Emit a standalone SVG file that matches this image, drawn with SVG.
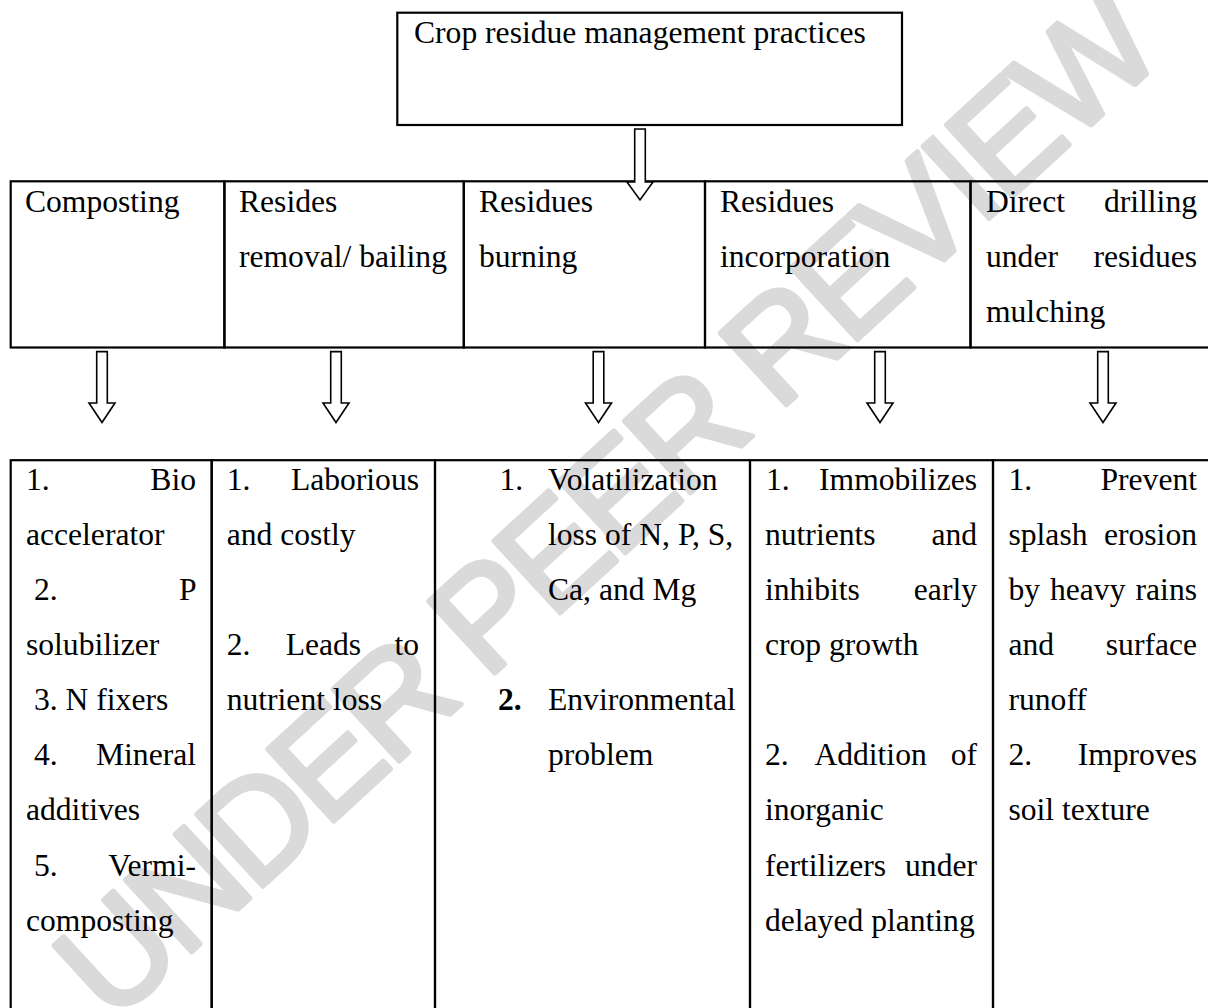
<svg xmlns="http://www.w3.org/2000/svg" width="1208" height="1008" viewBox="0 0 1208 1008">
<style>
text{font-family:"Liberation Serif","Times New Roman",serif;font-size:31.6px;fill:#000}
.e{text-anchor:end}
.b{font-weight:bold}
.cell{fill:none;stroke:#000;stroke-width:2.2}
.arr{fill:#fff;stroke:#000;stroke-width:1.6;stroke-linejoin:miter}
.wm{font-family:"Liberation Sans",Arial,sans-serif;font-size:142px;letter-spacing:-6px;fill:#dadada;stroke:#dadada;stroke-width:5;stroke-linejoin:round}
</style>
<rect x="0" y="0" width="1208" height="1008" fill="#fff"/>
<g id="watermark">
<text class="wm" transform="translate(112,1025) rotate(-42.6)">UNDER PEER REVIEW</text>
</g>
<g id="header">
<rect class="cell" x="397.3" y="12.7" width="504.7" height="112.3"/>
<text x="414" y="43">Crop residue management practices</text>
</g>
<g id="practice-composting">
<rect class="cell" x="10.7" y="181.3" width="213.7" height="166.2"/>
<text x="25" y="212">Composting</text>
</g>
<g id="practice-removal">
<rect class="cell" x="224.4" y="181.3" width="239.4" height="166.2"/>
<text x="239" y="212">Resides</text>
<text x="239" y="267">removal/ bailing</text>
</g>
<g id="practice-burning">
<rect class="cell" x="463.8" y="181.3" width="241.2" height="166.2"/>
<text x="479" y="212">Residues</text>
<text x="479" y="267">burning</text>
</g>
<g id="practice-incorporation">
<rect class="cell" x="705" y="181.3" width="265.5" height="166.2"/>
<text x="720" y="212">Residues</text>
<text x="720" y="267">incorporation</text>
</g>
<g id="practice-mulching">
<rect class="cell" x="970.5" y="181.3" width="250" height="166.2"/>
<text x="986" y="212">Direct</text><text class="e" x="1197" y="212">drilling</text>
<text x="986" y="267">under</text><text class="e" x="1197" y="267">residues</text>
<text x="986" y="322">mulching</text>
</g>
<g id="effect-composting">
<rect class="cell" x="10.7" y="460.2" width="201" height="560"/>
<text x="26" y="489.5">1.</text><text class="e" x="196" y="489.5">Bio</text>
<text x="26" y="544.6">accelerator</text>
<text x="34" y="599.8">2.</text><text class="e" x="196.5" y="599.8">P</text>
<text x="26" y="654.9">solubilizer</text>
<text x="34" y="710.1">3. N fixers</text>
<text x="34" y="765.2">4.</text><text class="e" x="196" y="765.2">Mineral</text>
<text x="26" y="820.4">additives</text>
<text x="34" y="875.5">5.</text><text class="e" x="196" y="875.5">Vermi-</text>
<text x="26" y="930.7">composting</text>
</g>
<g id="effect-removal">
<rect class="cell" x="211.7" y="460.2" width="223.3" height="560"/>
<text x="226.7" y="489.5">1.</text><text class="e" x="419" y="489.5">Laborious</text>
<text x="226.7" y="544.6">and costly</text>
<text x="226.7" y="654.9">2.</text><text x="285.7" y="654.9">Leads</text><text class="e" x="419" y="654.9">to</text>
<text x="226.7" y="710.1">nutrient loss</text>
</g>
<g id="effect-burning">
<rect class="cell" x="435" y="460.2" width="315" height="560"/>
<text x="499.5" y="489.5">1.</text><text x="548" y="489.5">Volatilization</text>
<text x="548" y="544.6">loss of N, P, S,</text>
<text x="548" y="599.8">Ca, and Mg</text>
<text class="b" x="498" y="710.1">2.</text><text x="548" y="710.1">Environmental</text>
<text x="548" y="765.2">problem</text>
</g>
<g id="effect-incorporation">
<rect class="cell" x="750" y="460.2" width="243" height="560"/>
<text x="766" y="489.5">1.</text><text class="e" x="977" y="489.5">Immobilizes</text>
<text x="765" y="544.6">nutrients</text><text class="e" x="977" y="544.6">and</text>
<text x="765" y="599.8">inhibits</text><text class="e" x="977" y="599.8">early</text>
<text x="765" y="654.9">crop growth</text>
<text x="765" y="765.2">2.</text><text x="814.4" y="765.2">Addition</text><text class="e" x="977" y="765.2">of</text>
<text x="765" y="820.4">inorganic</text>
<text x="765" y="875.5">fertilizers</text><text class="e" x="977" y="875.5">under</text>
<text x="765" y="930.7">delayed planting</text>
</g>
<g id="effect-mulching">
<rect class="cell" x="993" y="460.2" width="230" height="560"/>
<text x="1008.5" y="489.5">1.</text><text class="e" x="1197" y="489.5">Prevent</text>
<text x="1008.5" y="544.6">splash</text><text class="e" x="1197" y="544.6">erosion</text>
<text x="1008.5" y="599.8">by</text><text x="1050" y="599.8">heavy</text><text class="e" x="1197" y="599.8">rains</text>
<text x="1008.5" y="654.9">and</text><text class="e" x="1197" y="654.9">surface</text>
<text x="1008.5" y="710.1">runoff</text>
<text x="1008.5" y="765.2">2.</text><text class="e" x="1197" y="765.2">Improves</text>
<text x="1008.5" y="820.4">soil texture</text>
</g>
<g id="connectors">
<path class="arr" d="M634.7,129 H645.3 V182 H653 L640,200 L627,182 H634.7 Z"/>
<path class="arr" d="M96.7,351.6 H107.3 V403 H115 L102,422.5 L89,403 H96.7 Z"/>
<path class="arr" d="M330.7,351.6 H341.3 V403 H349 L336,422.5 L323,403 H330.7 Z"/>
<path class="arr" d="M593.2,351.6 H603.8 V403 H611.5 L598.5,422.5 L585.5,403 H593.2 Z"/>
<path class="arr" d="M874.7,351.6 H885.3 V403 H893 L880,422.5 L867,403 H874.7 Z"/>
<path class="arr" d="M1097.7,351.6 H1108.3 V403 H1116 L1103,422.5 L1090,403 H1097.7 Z"/>
</g>
</svg>
